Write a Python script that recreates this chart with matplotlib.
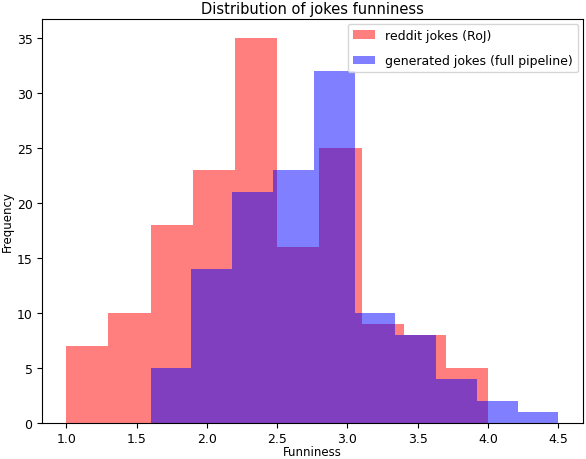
import matplotlib
matplotlib.use("Agg")
import matplotlib.pyplot as plt
import numpy as np

red_edges = [1.0, 1.3, 1.6, 1.9, 2.2, 2.5, 2.8, 3.1, 3.4, 3.7, 4.0]
red_counts = [7, 10, 18, 23, 35, 16, 25, 9, 8, 5]
blue_edges = [1.6, 1.89, 2.18, 2.47, 2.76, 3.05, 3.34, 3.63, 3.92, 4.21, 4.5]
blue_counts = [5, 14, 21, 23, 32, 10, 8, 4, 2, 1]

fig = plt.figure(figsize=(5.86, 4.6), dpi=100)
ax = fig.add_axes([0.071, 0.078, 0.924, 0.879])

re = np.array(red_edges); be = np.array(blue_edges)
ax.hist((re[:-1] + re[1:]) / 2, bins=re, weights=red_counts, color='red', alpha=0.5,
        label='reddit jokes (RoJ)')
ax.hist((be[:-1] + be[1:]) / 2, bins=be, weights=blue_counts, color='blue', alpha=0.5,
        label='generated jokes (full pipeline)')

ax.set_title('Distribution of jokes funniness', fontsize=10.5, pad=4)
ax.set_xlabel('Funniness', fontsize=8.5, labelpad=0)
ax.set_ylabel('Frequency', fontsize=8.5, labelpad=2)
ax.tick_params(labelsize=9, pad=3)
ax.legend(loc='upper right', fontsize=9, labelspacing=1.0, handlelength=1.8,
          borderaxespad=0.4)
fig.savefig('out.png')
